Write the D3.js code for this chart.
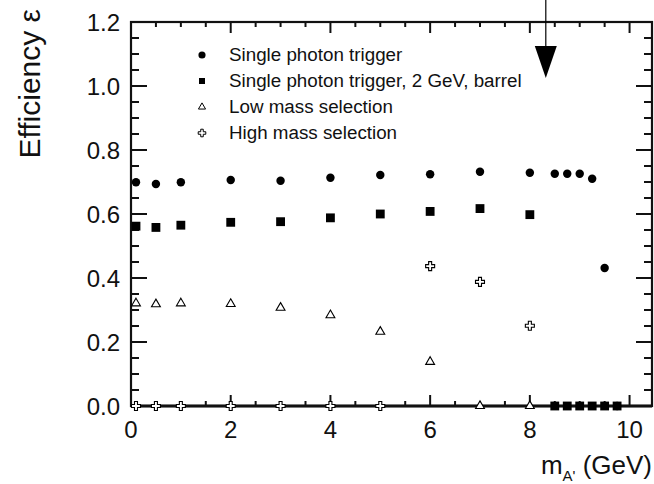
<!DOCTYPE html>
<html>
<head>
<meta charset="utf-8">
<script src="https://cdn.jsdelivr.net/npm/d3@7"></script>
<style>
  body { margin: 0; background: #fff; }
  svg text { font-family: "Liberation Sans", Arial, Helvetica, sans-serif; fill: #111; }
</style>
</head>
<body>
<svg id="chart" width="654" height="484"></svg>
<script>
// masse (GeV) e efficienze
const singleX = [0.1, 0.5, 1, 2, 3, 4, 5, 6, 7, 8, 8.5, 8.75, 9, 9.25, 9.5, 9.75];
const singleY = [0.699, 0.694, 0.699, 0.706, 0.704, 0.713, 0.722, 0.724, 0.732, 0.729, 0.726, 0.726, 0.726, 0.710, 0.431, 0];

const barrelX = [0.1, 0.5, 1, 2, 3, 4, 5, 6, 7, 8, 8.5, 8.75, 9, 9.25, 9.5, 9.75];
const barrelY = [0.562, 0.558, 0.565, 0.574, 0.576, 0.588, 0.600, 0.608, 0.617, 0.598, 0, 0, 0, 0, 0, 0];

const lowX = [0.1, 0.5, 1, 2, 3, 4, 5, 6, 7, 8];
const lowY = [0.321, 0.318, 0.321, 0.319, 0.307, 0.284, 0.232, 0.138, 0, 0];

const highX = [0.1, 0.5, 1, 2, 3, 4, 5, 6, 7, 8];
const highY = [0, 0, 0, 0, 0, 0, 0, 0.437, 0.388, 0.251];

const legendLabels = [
  "Single photon trigger",
  "Single photon trigger, 2 GeV, barrel",
  "Low mass selection",
  "High mass selection"
];

const xTicks = [0, 2, 4, 6, 8, 10];
const yTicks = [0, 0.2, 0.4, 0.6, 0.8, 1.0, 1.2];
const arrowX = 8.32;

const svg = d3.select("#chart");
const plotLeft = 131, plotRight = 652, plotTop = 22, plotBottom = 406;

const x = d3.scaleLinear().domain([0, 10.45]).range([plotLeft, plotRight]);
const y = d3.scaleLinear().domain([0, 1.2]).range([plotBottom, plotTop]);

/*
* Cornice con le tacche su tutti e quattro i lati, rivolte verso l'interno
*/
function drawFrame() {
  const g = svg.append("g").attr("id", "frame");

  const xMinor = d3.range(0, 10.45, 0.5);
  const yMinor = d3.range(0, 1.2001, 0.05);

  xMinor.forEach(v => {
    const major = Math.abs(v / 2 - Math.round(v / 2)) < 1e-6;
    const len = major ? 11 : 5;
    g.append("line").attr("x1", x(v)).attr("x2", x(v))
      .attr("y1", plotBottom).attr("y2", plotBottom - len);
    g.append("line").attr("x1", x(v)).attr("x2", x(v))
      .attr("y1", plotTop).attr("y2", plotTop + len);
  });

  yMinor.forEach(v => {
    const major = Math.abs(v / 0.2 - Math.round(v / 0.2)) < 1e-6;
    const len = major ? 16 : 8;
    g.append("line").attr("x1", plotLeft).attr("x2", plotLeft + len)
      .attr("y1", y(v)).attr("y2", y(v));
    g.append("line").attr("x1", plotRight).attr("x2", plotRight - len)
      .attr("y1", y(v)).attr("y2", y(v));
  });

  g.selectAll("line").style("stroke", "#111").style("stroke-width", 2);

  g.append("rect")
    .attr("x", plotLeft).attr("y", plotTop)
    .attr("width", plotRight - plotLeft).attr("height", plotBottom - plotTop)
    .style("fill", "none").style("stroke", "#111").style("stroke-width", 2.2);

  // asse x un po' più spesso, come nell'originale
  g.append("line")
    .attr("x1", plotLeft).attr("x2", plotRight)
    .attr("y1", plotBottom).attr("y2", plotBottom)
    .style("stroke", "#111").style("stroke-width", 3);

  // etichette degli assi
  svg.append("g").selectAll("text")
    .data(xTicks).enter().append("text")
    .attr("x", d => x(d)).attr("y", 438)
    .attr("text-anchor", "middle")
    .style("font-size", "24px")
    .text(d => d);

  svg.append("g").selectAll("text")
    .data(yTicks).enter().append("text")
    .attr("x", 120).attr("y", d => y(d) + 8.5)
    .attr("text-anchor", "end")
    .style("font-size", "24px")
    .text(d => d.toFixed(1));

  // titoli
  svg.append("text")
    .attr("transform", "translate(40,9) rotate(-90)")
    .attr("text-anchor", "end")
    .style("font-size", "30px")
    .text("Efficiency \u03b5");

  const xt = svg.append("text")
    .attr("x", 652).attr("y", 474)
    .attr("text-anchor", "end")
    .style("font-size", "26px");
  xt.append("tspan").text("m");
  xt.append("tspan").attr("dy", 7).style("font-size", "15px").text("A'");
  xt.append("tspan").attr("dy", -7).text(" (GeV)");
}

/*
* Disegna una serie di marker
*/
function drawSeries(xs, ys, type, size, filled) {
  const pts = xs.map((v, i) => ({ x: v, y: ys[i] }));
  svg.append("g").selectAll("path")
    .data(pts).enter().append("path")
    .attr("transform", d => `translate(${x(d.x)},${y(d.y)})`)
    .attr("d", d3.symbol().type(type).size(size))
    .style("fill", filled ? "#000" : "#fff")
    .style("stroke", "#000")
    .style("stroke-width", filled ? 0 : 1.1);
}

function drawLegend() {
  const items = [
    { type: d3.symbolCircle, size: 40, filled: true },
    { type: d3.symbolSquare, size: 36, filled: true },
    { type: d3.symbolTriangle, size: 22, filled: false },
    { type: d3.symbolCross, size: 32, filled: false }
  ];
  const g = svg.append("g").attr("id", "legend");
  items.forEach((it, i) => {
    const by = 61 + i * 26;
    g.append("path")
      .attr("transform", `translate(202,${by - 6})`)
      .attr("d", d3.symbol().type(it.type).size(it.size))
      .style("fill", it.filled ? "#000" : "#fff")
      .style("stroke", "#000")
      .style("stroke-width", it.filled ? 0 : 1);
    g.append("text")
      .attr("x", 229).attr("y", by)
      .style("font-size", "18.8px")
      .text(legendLabels[i]);
  });
}

/*
* Freccia verticale in alto
*/
function drawArrow() {
  const ax = x(arrowX);
  svg.append("line")
    .attr("x1", ax).attr("x2", ax).attr("y1", 0).attr("y2", 70)
    .style("stroke", "#000").style("stroke-width", 1.2);
  svg.append("path")
    .attr("d", `M${ax - 11},46 L${ax + 11},46 L${ax},78 Z`)
    .style("fill", "#000");
}

drawFrame();
drawSeries(highX, highY, d3.symbolCross, 45, false);
drawSeries(lowX, lowY, d3.symbolTriangle, 34, false);
drawSeries(barrelX, barrelY, d3.symbolSquare, 78, true);
drawSeries(singleX, singleY, d3.symbolCircle, 56, true);
drawLegend();
drawArrow();
</script>
</body>
</html>
